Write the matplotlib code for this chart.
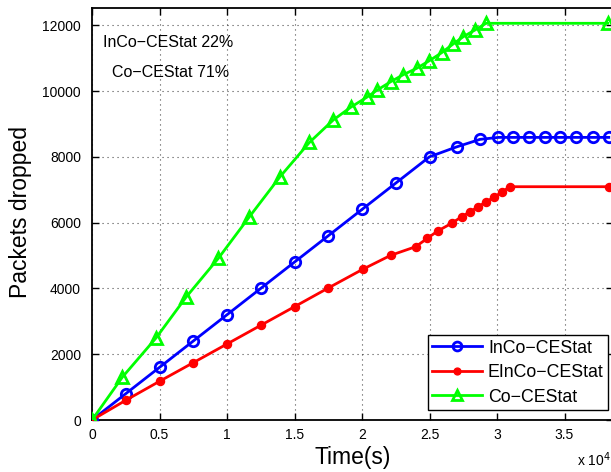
import matplotlib
matplotlib.use("Agg")
import matplotlib.pyplot as plt
from matplotlib.ticker import FuncFormatter

plt.rcParams['font.family'] = ['Liberation Sans', 'DejaVu Sans']

# Data (time in seconds, packets dropped)
inco_x = [0, 2500, 5000, 7500, 10000, 12500, 15000, 17500, 20000, 22500, 25000,
          27000, 28740, 30110, 31220, 32390, 33520, 34700, 35870, 37110, 38280]
inco_y = [0, 800, 1600, 2400, 3200, 4000, 4800, 5600, 6400, 7200, 8000,
          8300, 8530, 8590, 8590, 8590, 8590, 8590, 8590, 8590, 8590]

einco_x = [0, 2500, 5000, 7500, 10000, 12500, 15000, 17500, 20050, 22130, 23980,
           24840, 25610, 26640, 27390, 28000, 28620, 29190, 29780, 30390, 30960, 38280]
einco_y = [0, 599, 1176, 1742, 2310, 2878, 3444, 4012, 4580, 5006, 5268,
           5523, 5745, 5979, 6180, 6332, 6484, 6636, 6769, 6939, 7091, 7091]

co_x = [0, 2240, 4740, 6960, 9360, 11630, 13930, 16100, 17870, 19160, 20350,
        21130, 22130, 23010, 24050, 24990, 25900, 26720, 27500, 28370, 29190, 38200]
co_y = [0, 1298, 2492, 3730, 4915, 6161, 7395, 8435, 9119, 9505, 9809,
        10030, 10283, 10486, 10690, 10921, 11164, 11419, 11650, 11854, 12058, 12058]

series_labels = ['InCo−CEStat', 'EInCo−CEStat', 'Co−CEStat']
annotations = ['InCo−CEStat 22%', 'Co−CEStat 71%']
xticks = [0, 5000, 10000, 15000, 20000, 25000, 30000, 35000]
yticks = [0, 2000, 4000, 6000, 8000, 10000, 12000]

W, H = 611, 472
fig = plt.figure(figsize=(W / 100, H / 100), dpi=100)
ax = fig.add_axes([92 / W, 52 / H, (613 - 92) / W, 412 / H])

LW = 2.0
ax.plot(inco_x, inco_y, color=(0, 0, 1), lw=LW, marker='o', ms=7.5,
        mfc='none', mec=(0, 0, 1), mew=LW, label=series_labels[0], zorder=3)
ax.plot(einco_x, einco_y, color=(1, 0, 0), lw=LW, marker='o', ms=5.8,
        mfc=(1, 0, 0), mec=(1, 0, 0), mew=1.0, label=series_labels[1], zorder=3)
ax.plot(co_x, co_y, color=(0, 1, 0), lw=LW, marker='^', ms=8.5,
        mfc='none', mec=(0, 1, 0), mew=LW, label=series_labels[2], zorder=3)

ax.set_xlim(0, (613 - 92) / 135 * 1e4)
ax.set_ylim(0, 12523)
ax.set_xticks(xticks)
ax.set_yticks(yticks)
ax.xaxis.set_major_formatter(FuncFormatter(lambda v, p: f'{v / 1e4:g}'))
ax.tick_params(direction='in', length=5, width=1, top=True, right=True,
               labelsize=10, colors='k')
ax.tick_params(axis='y', pad=8)
ax.tick_params(axis='x', pad=6)
for s in ax.spines.values():
    s.set_linewidth(1.3)
    s.set_color('k')
ax.grid(True, color='k', linestyle=(0, (1, 3.5)), linewidth=0.8, alpha=0.7)
ax.set_axisbelow(True)

fig.text(21 / W, 1 - 212 / H, 'Packets dropped', rotation=90, fontsize=16.5,
         ha='center', va='center')
fig.text(353 / W, 1 - 464 / H, 'Time(s)', fontsize=16.5, ha='center', va='baseline')
fig.text(577 / W, 1 - 466 / H, r'x 10$^{4}$', fontsize=10, ha='left', va='baseline')

fig.text(103 / W, 1 - 47 / H, annotations[0], fontsize=11.5, ha='left', va='baseline')
fig.text(112.5 / W, 1 - 77 / H, annotations[1], fontsize=11.5, ha='left', va='baseline')

leg = ax.legend(loc='lower left', bbox_to_anchor=(427.5 / W, 62 / H),
                bbox_transform=fig.transFigure, fontsize=12.8, frameon=True,
                fancybox=False, framealpha=1, edgecolor='k', borderaxespad=0,
                handlelength=2.8, handletextpad=0.35, labelspacing=0.42,
                borderpad=0.25)
leg.get_frame().set_linewidth(1.0)
for h in leg.legend_handles:
    h.set_markersize(h.get_markersize() * 0.85)

fig.savefig('out.png', dpi=100)
